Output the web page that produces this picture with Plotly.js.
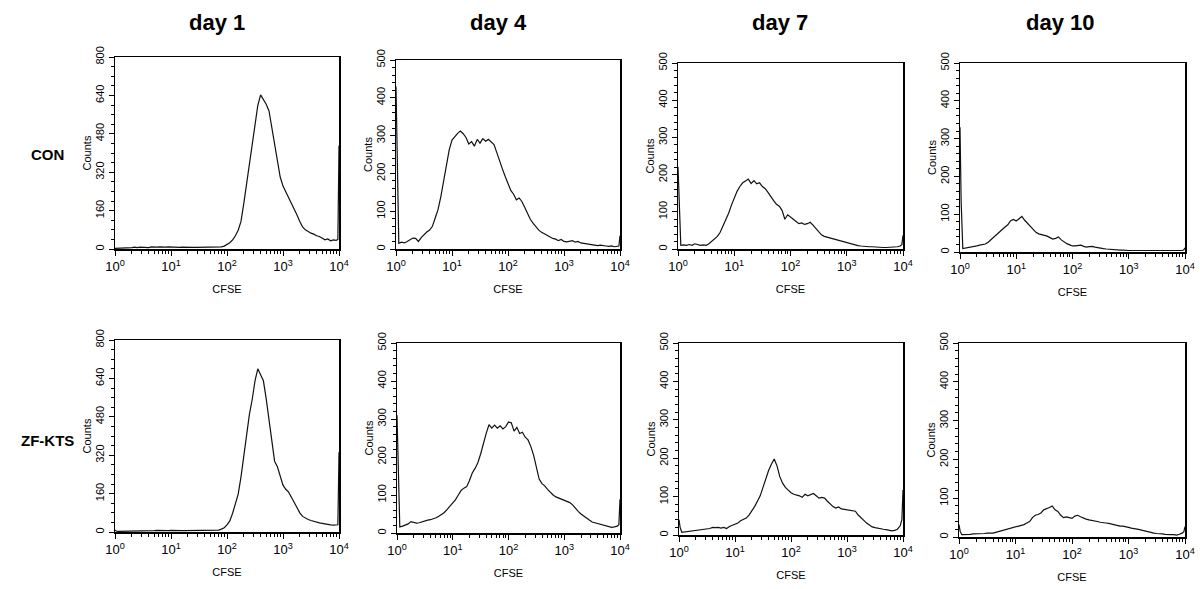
<!DOCTYPE html>
<html><head><meta charset="utf-8">
<script src="https://cdn.plot.ly/plotly-3.0.1.min.js"></script>
<style>html,body{margin:0;padding:0;background:#fff}#chart{width:1200px;height:589px}</style>
</head><body><div id="chart"></div>
<script>
// CFSE channel positions, as log10 exponents (0 = 10^0 ... 4 = 10^4)
const CFSE_EXP = [0, 0.02,
  0.05,0.10,0.15,0.20,0.25,0.30,0.35,0.40,0.45,0.50,
  0.55,0.60,0.65,0.70,0.75,0.80,0.85,0.90,0.95,1.00,
  1.05,1.10,1.15,1.20,1.25,1.30,1.35,1.40,1.45,1.50,
  1.55,1.60,1.65,1.70,1.75,1.80,1.85,1.90,1.95,2.00,
  2.05,2.10,2.15,2.20,2.25,2.30,2.35,2.40,2.45,2.50,
  2.55,2.60,2.65,2.70,2.75,2.80,2.85,2.90,2.95,3.00,
  3.05,3.10,3.15,3.20,3.25,3.30,3.35,3.40,3.45,3.50,
  3.55,3.60,3.65,3.70,3.75,3.80,3.85,3.90,3.95,
  3.98,4.00];

const days = ["day 1", "day 4", "day 7", "day 10"];
const groups = ["CON", "ZF-KTS"];
const xTickVals = [1, 10, 100, 1000, 10000];
const xTickText = ["10<sup>0</sup>", "10<sup>1</sup>", "10<sup>2</sup>", "10<sup>3</sup>", "10<sup>4</sup>"];
const xTitle = "CFSE";
const yTitle = "Counts";

// Counts per channel
const con_day1 = [3,3,
  3,3,3,4,5,6,8,6,8,7,
  8,6,9,7,8,9,7,8,9,8,
  8,7,7,8,7,7,7,7,7,7,
  7,7,7,7,7,8,8,9,12,20,
  26,38,55,78,115,190,272,352,440,525,
  598,642,622,603,575,505,440,365,300,262,
  238,215,195,168,142,115,92,80,72,66,
  62,55,52,45,38,42,34,38,36,
  40,430];
const con_day4 = [430,227,
  15,18,16,20,24,29,28,20,30,38,
  45,50,60,82,104,138,180,228,262,288,
  298,306,312,305,295,278,284,272,290,280,
  292,285,290,282,276,255,236,212,192,172,
  155,145,130,135,125,110,92,78,68,58,
  50,44,40,35,32,28,26,22,25,20,
  19,20,22,18,20,16,15,14,12,11,
  10,9,10,8,8,7,8,6,6,
  8,35];
const con_day7 = [221,112,
  10,11,10,12,10,14,11,10,11,10,
  14,20,28,34,45,62,80,96,118,138,
  155,168,178,183,188,176,184,175,178,168,
  162,152,140,130,120,115,104,80,92,85,
  80,74,68,70,66,68,72,64,56,46,
  38,34,32,30,27,24,22,20,19,17,
  14,12,10,9,8,7,7,6,6,5,
  5,5,4,4,4,4,5,6,8,
  12,37];
const con_day10 = [330,134,
  9,10,12,12,14,16,18,20,21,26,
  33,38,45,52,60,66,72,83,86,82,
  88,94,84,76,66,58,52,48,46,44,
  42,38,34,36,40,32,26,22,19,16,
  16,17,18,15,13,14,15,13,11,9,
  9,8,7,7,6,6,5,5,4,4,
  4,4,3,4,3,3,3,3,3,3,
  3,3,3,3,3,3,3,3,4,
  6,11];
const zf_day1 = [8,4,
  3,3,4,4,5,5,4,5,6,5,
  6,5,6,6,7,6,6,7,6,7,
  6,6,6,6,6,6,6,6,6,6,
  6,6,6,6,6,6,8,12,18,30,
  46,78,115,158,230,320,410,490,552,630,
  680,655,630,555,465,365,295,272,228,195,
  178,166,145,122,100,80,65,58,52,48,
  44,40,38,36,33,32,30,29,28,
  30,332];
const zf_day4 = [310,167,
  16,18,20,24,30,28,26,27,30,33,
  34,35,37,40,44,48,54,62,70,80,
  88,100,112,118,122,138,158,170,185,208,
  238,262,285,276,284,276,282,274,280,292,
  290,268,278,262,265,252,245,228,205,170,
  142,130,124,115,106,100,95,92,90,86,
  84,80,74,64,57,50,44,39,34,29,
  27,24,22,20,18,16,15,16,18,
  22,89];
const zf_day7 = [40,20,
  7,8,9,9,10,11,12,13,14,16,
  17,20,19,20,18,20,17,22,25,28,
  31,37,40,44,52,62,74,88,102,124,
  148,168,184,198,180,152,135,124,117,110,
  106,104,102,98,106,102,104,108,102,96,
  98,96,88,80,74,70,73,68,67,66,
  65,64,62,52,44,38,31,25,21,19,
  17,16,15,14,12,11,12,15,24,
  40,117];
const zf_day10 = [32,15,
  6,6,7,7,8,8,9,9,9,10,
  10,10,12,14,16,18,20,22,24,25,
  27,29,32,36,40,50,56,58,62,70,
  72,76,80,70,66,56,50,52,50,48,
  54,56,52,48,46,44,43,41,40,38,
  36,36,35,33,31,30,28,28,27,25,
  23,22,20,19,17,15,13,11,10,9,
  9,8,7,6,6,6,5,7,10,
  14,27];

const yMaxes = [800, 500, 500, 500, 800, 500, 500, 500];
const series = [con_day1, con_day4, con_day7, con_day10, zf_day1, zf_day4, zf_day7, zf_day10];

// panel boxes in pixels [left, right, top, bottom]
const boxes = [
  [115,339,57,249],[396,620,60,249],[678,903,63,249],[960,1185,63,252],
  [115,339,340,532],[397,620,343,533],[679,903,343,535],[959,1185,343,537]
];
const W = 1200, H = 589;
const FONT = "Liberation Sans, Arial, Helvetica, sans-serif";

const cfse = CFSE_EXP.map(e => Math.pow(10, e));
const minorX = [];
for (let d = 0; d < 4; d++) for (let k = 2; k <= 9; k++) minorX.push(k * Math.pow(10, d));

const data = [];
const layout = {
  width: W, height: H,
  margin: {l: 0, r: 0, t: 0, b: 0},
  paper_bgcolor: "#fff", plot_bgcolor: "#fff",
  showlegend: false,
  font: {family: FONT, color: "#000", size: 11},
  annotations: []
};

series.forEach((ys, i) => {
  const n = i + 1;
  const xa = "x" + (n === 1 ? "" : n), ya = "y" + (n === 1 ? "" : n);
  data.push({x: cfse, y: ys, xaxis: xa, yaxis: ya, type: "scatter", mode: "lines",
    line: {color: "#111", width: 1.2}, hoverinfo: "skip"});
  const b = boxes[i];
  const ymax = yMaxes[i];
  layout["xaxis" + (n === 1 ? "" : n)] = {
    type: "log", range: [0, 4], domain: [b[0] / W, b[1] / W], anchor: ya,
    tickmode: "array", tickvals: xTickVals, ticktext: xTickText,
    ticks: "outside", ticklen: 5, tickwidth: 1, tickcolor: "#000",
    minor: {tickmode: "array", tickvals: minorX, ticks: "outside", ticklen: 3, tickwidth: 1, tickcolor: "#000", showgrid: false},
    showline: true, mirror: true, linecolor: "#000", linewidth: 1.5,
    showgrid: false, zeroline: false,
    tickfont: {family: FONT, size: 13, color: "#000"},
    title: {text: xTitle, font: {family: FONT, size: 11, color: "#000"}, standoff: 12}
  };
  layout["yaxis" + (n === 1 ? "" : n)] = {
    range: [0, ymax], domain: [1 - b[3] / H, 1 - b[2] / H], anchor: xa,
    tickmode: "linear", tick0: 0, dtick: ymax === 800 ? 160 : 100,
    ticks: "outside", ticklen: 5, tickwidth: 1, tickcolor: "#000", tickangle: -90,
    minor: {dtick: ymax === 800 ? 40 : 20, ticks: "outside", ticklen: 3, tickwidth: 1, tickcolor: "#000", showgrid: false},
    showline: true, mirror: true, linecolor: "#000", linewidth: 1.5,
    showgrid: false, zeroline: false,
    tickfont: {family: FONT, size: 11, color: "#000"},
    title: {text: yTitle, font: {family: FONT, size: 11, color: "#000"}, standoff: 0}
  };
});

const dayX = [217, 498, 780, 1060];
days.forEach((d, j) => layout.annotations.push({
  text: "<b>" + d + "</b>", xref: "paper", yref: "paper", x: dayX[j] / W, y: 1 - 22 / H,
  xanchor: "center", yanchor: "middle", showarrow: false,
  font: {family: FONT, size: 22, color: "#000"}
}));
const groupY = [155, 440];
groups.forEach((g, j) => layout.annotations.push({
  text: "<b>" + g + "</b>", xref: "paper", yref: "paper", x: 47 / W, y: 1 - groupY[j] / H,
  xanchor: "center", yanchor: "middle", showarrow: false,
  font: {family: FONT, size: 15, color: "#000"}
}));

Plotly.newPlot("chart", data, layout, {staticPlot: true, displayModeBar: false});
</script></body></html>
